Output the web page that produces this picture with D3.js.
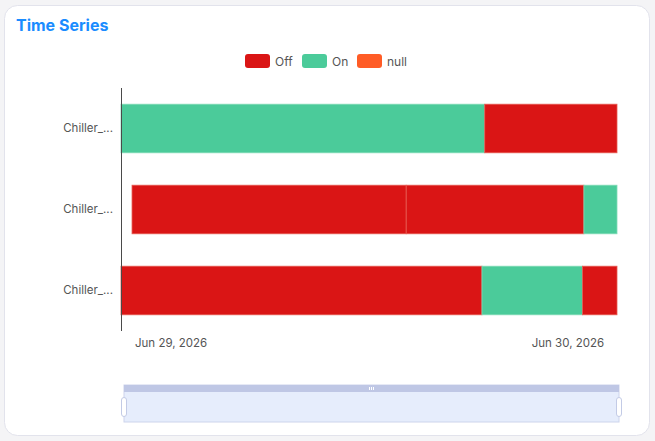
<!DOCTYPE html>
<html>
<head>
<meta charset="utf-8">
<script src="https://cdn.jsdelivr.net/npm/d3@7"></script>
<style>
  html, body { margin: 0; padding: 0; background: #f4f4f6; }
  svg { display: block; font-family: Inter, "Noto Sans", sans-serif; }
</style>
</head>
<body>
<svg id="chart" width="655" height="441"></svg>
<script>
// ---- data ----
const categories = ["Chiller_1", "Chiller_2", "Chiller_3"];
const states = ["Off", "On", "null"];
const stateColors = ["#da1515", "#4bcb9a", "#ff5c26"];
const chiller1 = [
  ["2026-06-28T21:00", "2026-06-29T19:00", "On"],
  ["2026-06-29T19:00", "2026-06-30T03:00", "Off"]
];
const chiller2 = [
  ["2026-06-28T21:40", "2026-06-29T14:15", "Off"],
  ["2026-06-29T14:15", "2026-06-30T01:00", "Off"],
  ["2026-06-30T01:00", "2026-06-30T03:00", "On"]
];
const chiller3 = [
  ["2026-06-28T21:00", "2026-06-29T18:50", "Off"],
  ["2026-06-29T18:50", "2026-06-30T00:55", "On"],
  ["2026-06-30T00:55", "2026-06-30T03:00", "Off"]
];
const timeRange = ["2026-06-28T21:00", "2026-06-30T03:00"];
const tickDates = ["2026-06-29T00:00", "2026-06-30T00:00"];
const tickLabels = ["Jun 29, 2026", "Jun 30, 2026"];

// ---- build ----
const FONT = "Inter, 'Noto Sans', sans-serif";
const parse = d3.utcParse("%Y-%m-%dT%H:%M");
const seriesByCat = [chiller1, chiller2, chiller3];
const segments = [];
seriesByCat.forEach((arr, i) => arr.forEach(s => segments.push({
  cat: categories[i], start: parse(s[0]), end: parse(s[1]), state: s[2]
})));

const svg = d3.select("#chart");
const color = d3.scaleOrdinal().domain(states).range(stateColors);
const strokeColor = d3.scaleOrdinal().domain(states).range(["#e65a52", "#7fdab6", "#ff8a5c"]);

// card
svg.append("rect").attr("x", 4.5).attr("y", 5.5).attr("width", 645).attr("height", 430)
  .attr("rx", 13).attr("fill", "#fff").attr("stroke", "#e2e3ec");

// title
svg.append("text").attr("x", 16).attr("y", 30.5).text("Time Series")
  .attr("fill", "#1a8cff").attr("font-size", 16).attr("font-weight", 700);

// legend
const legendX = [245, 302, 357];
const lg = svg.append("g");
states.forEach((s, i) => {
  lg.append("rect").attr("x", legendX[i]).attr("y", 54).attr("width", 25).attr("height", 14)
    .attr("rx", 3).attr("fill", color(s));
  lg.append("text").attr("x", legendX[i] + 30).attr("y", 65.5).text(s)
    .attr("font-size", 12).attr("fill", "#555");
});

// scales
const x = d3.scaleUtc().domain(timeRange.map(parse)).range([121, 617]);
const y = d3.scaleBand().domain(categories).range([88, 331]).paddingInner(0.4).paddingOuter(0.2);

// bars
svg.append("g").selectAll("rect").data(segments).join("rect")
  .attr("x", d => x(d.start))
  .attr("y", d => y(d.cat))
  .attr("width", d => x(d.end) - x(d.start))
  .attr("height", y.bandwidth())
  .attr("fill", d => color(d.state))
  .attr("stroke", d => strokeColor(d.state))
  .attr("stroke-width", 0.8);

// y axis
const truncate = s => s.length > 8 ? s.slice(0, 8) + "..." : s;
const yAxis = d3.axisLeft(y).tickSize(0).tickPadding(8).tickFormat(truncate);
const yg = svg.append("g").attr("transform", "translate(121,0)").call(yAxis);
yg.select(".domain").attr("stroke", "#4a4a4a").attr("d", "M0.5,88V331");
yg.selectAll("text").attr("font-size", 11.5).attr("fill", "#555").attr("font-family", FONT);

// x axis (labels only)
const xAxis = d3.axisBottom(x).tickValues(tickDates.map(parse)).tickSize(0).tickPadding(0)
  .tickFormat((d, i) => tickLabels[i]);
const xg = svg.append("g").attr("transform", "translate(0,336)").call(xAxis);
xg.select(".domain").remove();
xg.selectAll("text").attr("font-size", 11.5).attr("fill", "#555").attr("dy", "0.95em")
  .attr("font-family", FONT);

// data zoom slider
const sx0 = 124, sx1 = 619;
const dz = svg.append("g");
dz.append("rect").attr("x", sx0).attr("y", 385).attr("width", sx1 - sx0).attr("height", 37)
  .attr("fill", "#e6edfc").attr("stroke", "#cdd4ec").attr("stroke-width", 1);
dz.append("rect").attr("x", sx0).attr("y", 385).attr("width", sx1 - sx0).attr("height", 7)
  .attr("fill", "#bfc7e5");
const mid = (sx0 + sx1) / 2;
[-2, 0, 2].forEach(o => dz.append("rect").attr("x", mid + o - 0.5).attr("y", 387)
  .attr("width", 1).attr("height", 3).attr("fill", "#fff"));
[sx0, sx1].forEach(hx => dz.append("rect").attr("x", hx - 2.5).attr("y", 397.5)
  .attr("width", 5).attr("height", 19).attr("rx", 2.5)
  .attr("fill", "#fff").attr("stroke", "#c3cbe6").attr("stroke-width", 1));
</script>
</body>
</html>
